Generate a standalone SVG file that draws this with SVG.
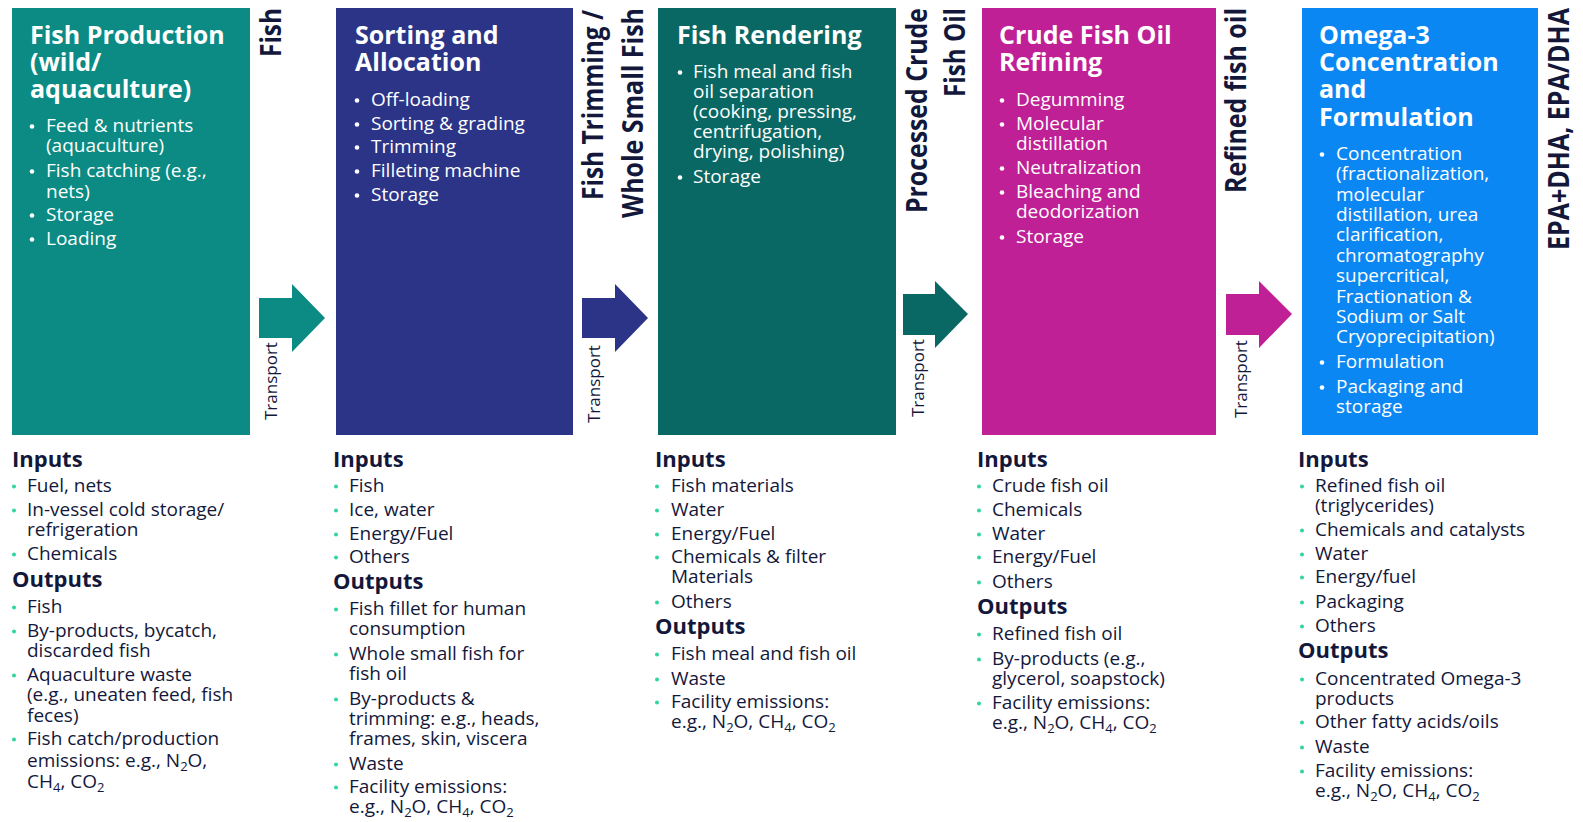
<svg xmlns="http://www.w3.org/2000/svg" width="1583" height="822" viewBox="0 0 1583 822">
<style>
.title{font-family:"Open Sans","Noto Sans",sans-serif;font-weight:700;font-size:25px;fill:#ffffff}
.bt{font-family:"Open Sans","Noto Sans",sans-serif;font-size:19px;fill:#ffffff}
.hd{font-family:"Open Sans","Noto Sans",sans-serif;font-weight:700;font-size:22px;fill:#13183b}
.it{font-family:"Open Sans","Noto Sans",sans-serif;font-size:19px;fill:#13183b}
.flow{font-family:"Open Sans","Noto Sans",sans-serif;font-weight:700;font-size:29px;fill:#13183b}
.tr{font-family:"Open Sans","Noto Sans",sans-serif;font-size:17px;fill:#13183b}
.wd{fill:#ffffff}
.md{fill:#2fd6a3}
.sub{font-size:13px}
</style>

<g id="connectors">
  <polygon points="259,298 292,298 292,284 325,318 292,352 292,338 259,338" fill="#0b8b84"/>
  <polygon points="582,298 615,298 615,284 648,318 615,352 615,338 582,338" fill="#2b3487"/>
  <polygon points="903,294 935,294 935,281 968,314 935,348 935,335 903,335" fill="#0a6864"/>
  <polygon points="1226,294 1259,294 1259,281 1292,314 1259,348 1259,335 1226,335" fill="#bf2096"/>
  <text class="tr" transform="translate(277,420) rotate(-90)">Transport</text>
  <text class="tr" transform="translate(600,423) rotate(-90)">Transport</text>
  <text class="tr" transform="translate(924,417) rotate(-90)">Transport</text>
  <text class="tr" transform="translate(1247,418) rotate(-90)">Transport</text>
  <text class="flow" transform="translate(281,57) rotate(-90)" textLength="49" lengthAdjust="spacingAndGlyphs">Fish</text>
  <text class="flow" transform="translate(603,200) rotate(-90)" textLength="190" lengthAdjust="spacingAndGlyphs">Fish Trimming /</text>
  <text class="flow" transform="translate(643,218) rotate(-90)" textLength="210" lengthAdjust="spacingAndGlyphs">Whole Small Fish</text>
  <text class="flow" transform="translate(927,213) rotate(-90)" textLength="205" lengthAdjust="spacingAndGlyphs">Processed Crude</text>
  <text class="flow" transform="translate(965,97) rotate(-90)" textLength="89" lengthAdjust="spacingAndGlyphs">Fish Oil</text>
  <text class="flow" transform="translate(1246,193) rotate(-90)" textLength="185" lengthAdjust="spacingAndGlyphs">Refined fish oil</text>
  <text class="flow" transform="translate(1569,250) rotate(-90)" textLength="242" lengthAdjust="spacingAndGlyphs">EPA+DHA, EPA/DHA</text>
</g>

<g id="node-fish-production">
  <rect x="12" y="8" width="238" height="427" fill="#0b8b84"/>
  <text class="title" x="30" y="44">Fish Production</text>
  <text class="title" x="30" y="71">(wild/</text>
  <text class="title" x="30" y="98">aquaculture)</text>
  <g class="wd"><circle cx="32" cy="126.5" r="2.3"/><circle cx="32" cy="171.5" r="2.3"/><circle cx="32" cy="215.5" r="2.3"/><circle cx="32" cy="239.5" r="2.3"/></g>
  <text class="bt" x="46" y="132">Feed &amp; nutrients</text>
  <text class="bt" x="46" y="152">(aquaculture)</text>
  <text class="bt" x="46" y="177">Fish catching (e.g.,</text>
  <text class="bt" x="46" y="198">nets)</text>
  <text class="bt" x="46" y="221">Storage</text>
  <text class="bt" x="46" y="245">Loading</text>
  <text class="hd" x="12" y="467">Inputs</text>
  <text class="hd" x="12" y="587">Outputs</text>
  <g class="md"><circle cx="14" cy="486.5" r="2"/><circle cx="14" cy="510.5" r="2"/><circle cx="14" cy="554.5" r="2"/><circle cx="14" cy="607.5" r="2"/><circle cx="14" cy="631.5" r="2"/><circle cx="14" cy="675.5" r="2"/><circle cx="14" cy="739.5" r="2"/></g>
  <text class="it" x="27" y="492">Fuel, nets</text>
  <text class="it" x="27" y="516">In-vessel cold storage/</text>
  <text class="it" x="27" y="536">refrigeration</text>
  <text class="it" x="27" y="560">Chemicals</text>
  <text class="it" x="27" y="613">Fish</text>
  <text class="it" x="27" y="637">By-products, bycatch,</text>
  <text class="it" x="27" y="657">discarded fish</text>
  <text class="it" x="27" y="681">Aquaculture waste</text>
  <text class="it" x="27" y="701">(e.g., uneaten feed, fish</text>
  <text class="it" x="27" y="722">feces)</text>
  <text class="it" x="27" y="745">Fish catch/production</text>
  <text class="it" x="27" y="767">emissions: e.g., N<tspan class="sub" dy="4">2</tspan><tspan dy="-4">O,</tspan></text>
  <text class="it" x="27" y="788">CH<tspan class="sub" dy="4">4</tspan><tspan dy="-4">, CO</tspan><tspan class="sub" dy="4">2</tspan></text>
</g>

<g id="node-sorting-allocation">
  <rect x="336" y="8" width="237" height="427" fill="#2b3487"/>
  <text class="title" x="355" y="44">Sorting and</text>
  <text class="title" x="355" y="71">Allocation</text>
  <g class="wd"><circle cx="357" cy="100.5" r="2.3"/><circle cx="357" cy="124.5" r="2.3"/><circle cx="357" cy="147.5" r="2.3"/><circle cx="357" cy="171.5" r="2.3"/><circle cx="357" cy="195.5" r="2.3"/></g>
  <text class="bt" x="371" y="106">Off-loading</text>
  <text class="bt" x="371" y="130">Sorting &amp; grading</text>
  <text class="bt" x="371" y="153">Trimming</text>
  <text class="bt" x="371" y="177">Filleting machine</text>
  <text class="bt" x="371" y="201">Storage</text>
  <text class="hd" x="333" y="467">Inputs</text>
  <text class="hd" x="333" y="589">Outputs</text>
  <g class="md"><circle cx="336" cy="486.5" r="2"/><circle cx="336" cy="510.5" r="2"/><circle cx="336" cy="534.5" r="2"/><circle cx="336" cy="557.5" r="2"/><circle cx="336" cy="609.5" r="2"/><circle cx="336" cy="654.5" r="2"/><circle cx="336" cy="699.5" r="2"/><circle cx="336" cy="764.5" r="2"/><circle cx="336" cy="787.5" r="2"/></g>
  <text class="it" x="349" y="492">Fish</text>
  <text class="it" x="349" y="516">Ice, water</text>
  <text class="it" x="349" y="540">Energy/Fuel</text>
  <text class="it" x="349" y="563">Others</text>
  <text class="it" x="349" y="615">Fish fillet for human</text>
  <text class="it" x="349" y="635">consumption</text>
  <text class="it" x="349" y="660">Whole small fish for</text>
  <text class="it" x="349" y="680">fish oil</text>
  <text class="it" x="349" y="705">By-products &amp;</text>
  <text class="it" x="349" y="725">trimming: e.g., heads,</text>
  <text class="it" x="349" y="745">frames, skin, viscera</text>
  <text class="it" x="349" y="770">Waste</text>
  <text class="it" x="349" y="793">Facility emissions:</text>
  <text class="it" x="349" y="813">e.g., N<tspan class="sub" dy="4">2</tspan><tspan dy="-4">O, CH</tspan><tspan class="sub" dy="4">4</tspan><tspan dy="-4">, CO</tspan><tspan class="sub" dy="4">2</tspan></text>
</g>

<g id="node-fish-rendering">
  <rect x="658" y="8" width="238" height="427" fill="#0a6864"/>
  <text class="title" x="677" y="44">Fish Rendering</text>
  <g class="wd"><circle cx="680" cy="72.5" r="2.3"/><circle cx="680" cy="177.5" r="2.3"/></g>
  <text class="bt" x="693" y="78">Fish meal and fish</text>
  <text class="bt" x="693" y="98">oil separation</text>
  <text class="bt" x="693" y="118">(cooking, pressing,</text>
  <text class="bt" x="693" y="138">centrifugation,</text>
  <text class="bt" x="693" y="158">drying, polishing)</text>
  <text class="bt" x="693" y="183">Storage</text>
  <text class="hd" x="655" y="467">Inputs</text>
  <text class="hd" x="655" y="634">Outputs</text>
  <g class="md"><circle cx="657" cy="486.5" r="2"/><circle cx="657" cy="510.5" r="2"/><circle cx="657" cy="534.5" r="2"/><circle cx="657" cy="557.5" r="2"/><circle cx="657" cy="602.5" r="2"/><circle cx="657" cy="654.5" r="2"/><circle cx="657" cy="679.5" r="2"/><circle cx="657" cy="702.5" r="2"/></g>
  <text class="it" x="671" y="492">Fish materials</text>
  <text class="it" x="671" y="516">Water</text>
  <text class="it" x="671" y="540">Energy/Fuel</text>
  <text class="it" x="671" y="563">Chemicals &amp; filter</text>
  <text class="it" x="671" y="583">Materials</text>
  <text class="it" x="671" y="608">Others</text>
  <text class="it" x="671" y="660">Fish meal and fish oil</text>
  <text class="it" x="671" y="685">Waste</text>
  <text class="it" x="671" y="708">Facility emissions:</text>
  <text class="it" x="671" y="728">e.g., N<tspan class="sub" dy="4">2</tspan><tspan dy="-4">O, CH</tspan><tspan class="sub" dy="4">4</tspan><tspan dy="-4">, CO</tspan><tspan class="sub" dy="4">2</tspan></text>
</g>

<g id="node-crude-oil-refining">
  <rect x="982" y="8" width="234" height="427" fill="#bf2096"/>
  <text class="title" x="999" y="44">Crude Fish Oil</text>
  <text class="title" x="999" y="71">Refining</text>
  <g class="wd"><circle cx="1002" cy="100.5" r="2.3"/><circle cx="1002" cy="124.5" r="2.3"/><circle cx="1002" cy="168.5" r="2.3"/><circle cx="1002" cy="192.5" r="2.3"/><circle cx="1002" cy="237.5" r="2.3"/></g>
  <text class="bt" x="1016" y="106">Degumming</text>
  <text class="bt" x="1016" y="130">Molecular</text>
  <text class="bt" x="1016" y="150">distillation</text>
  <text class="bt" x="1016" y="174">Neutralization</text>
  <text class="bt" x="1016" y="198">Bleaching and</text>
  <text class="bt" x="1016" y="218">deodorization</text>
  <text class="bt" x="1016" y="243">Storage</text>
  <text class="hd" x="977" y="467">Inputs</text>
  <text class="hd" x="977" y="614">Outputs</text>
  <g class="md"><circle cx="979" cy="486.5" r="2"/><circle cx="979" cy="510.5" r="2"/><circle cx="979" cy="534.5" r="2"/><circle cx="979" cy="557.5" r="2"/><circle cx="979" cy="582.5" r="2"/><circle cx="979" cy="634.5" r="2"/><circle cx="979" cy="659.5" r="2"/><circle cx="979" cy="703.5" r="2"/></g>
  <text class="it" x="992" y="492">Crude fish oil</text>
  <text class="it" x="992" y="516">Chemicals</text>
  <text class="it" x="992" y="540">Water</text>
  <text class="it" x="992" y="563">Energy/Fuel</text>
  <text class="it" x="992" y="588">Others</text>
  <text class="it" x="992" y="640">Refined fish oil</text>
  <text class="it" x="992" y="665">By-products (e.g.,</text>
  <text class="it" x="992" y="685">glycerol, soapstock)</text>
  <text class="it" x="992" y="709">Facility emissions:</text>
  <text class="it" x="992" y="729">e.g., N<tspan class="sub" dy="4">2</tspan><tspan dy="-4">O, CH</tspan><tspan class="sub" dy="4">4</tspan><tspan dy="-4">, CO</tspan><tspan class="sub" dy="4">2</tspan></text>
</g>

<g id="node-omega3-concentration">
  <rect x="1302" y="8" width="236" height="427" fill="#0b87f4"/>
  <text class="title" x="1319" y="44">Omega-3</text>
  <text class="title" x="1319" y="71">Concentration</text>
  <text class="title" x="1319" y="98">and</text>
  <text class="title" x="1319" y="126">Formulation</text>
  <g class="wd"><circle cx="1322" cy="154.5" r="2.3"/><circle cx="1322" cy="362.5" r="2.3"/><circle cx="1322" cy="387.5" r="2.3"/></g>
  <text class="bt" x="1336" y="160">Concentration</text>
  <text class="bt" x="1336" y="180">(fractionalization,</text>
  <text class="bt" x="1336" y="201">molecular</text>
  <text class="bt" x="1336" y="221">distillation, urea</text>
  <text class="bt" x="1336" y="241">clarification,</text>
  <text class="bt" x="1336" y="262">chromatography</text>
  <text class="bt" x="1336" y="282">supercritical,</text>
  <text class="bt" x="1336" y="303">Fractionation &amp;</text>
  <text class="bt" x="1336" y="323">Sodium or Salt</text>
  <text class="bt" x="1336" y="343">Cryoprecipitation)</text>
  <text class="bt" x="1336" y="368">Formulation</text>
  <text class="bt" x="1336" y="393">Packaging and</text>
  <text class="bt" x="1336" y="413">storage</text>
  <text class="hd" x="1298" y="467">Inputs</text>
  <text class="hd" x="1298" y="658">Outputs</text>
  <g class="md"><circle cx="1302" cy="486.5" r="2"/><circle cx="1302" cy="530.5" r="2"/><circle cx="1302" cy="554.5" r="2"/><circle cx="1302" cy="577.5" r="2"/><circle cx="1302" cy="602.5" r="2"/><circle cx="1302" cy="626.5" r="2"/><circle cx="1302" cy="679.5" r="2"/><circle cx="1302" cy="722.5" r="2"/><circle cx="1302" cy="747.5" r="2"/><circle cx="1302" cy="771.5" r="2"/></g>
  <text class="it" x="1315" y="492">Refined fish oil</text>
  <text class="it" x="1315" y="512">(triglycerides)</text>
  <text class="it" x="1315" y="536">Chemicals and catalysts</text>
  <text class="it" x="1315" y="560">Water</text>
  <text class="it" x="1315" y="583">Energy/fuel</text>
  <text class="it" x="1315" y="608">Packaging</text>
  <text class="it" x="1315" y="632">Others</text>
  <text class="it" x="1315" y="685">Concentrated Omega-3</text>
  <text class="it" x="1315" y="705">products</text>
  <text class="it" x="1315" y="728">Other fatty acids/oils</text>
  <text class="it" x="1315" y="753">Waste</text>
  <text class="it" x="1315" y="777">Facility emissions:</text>
  <text class="it" x="1315" y="797">e.g., N<tspan class="sub" dy="4">2</tspan><tspan dy="-4">O, CH</tspan><tspan class="sub" dy="4">4</tspan><tspan dy="-4">, CO</tspan><tspan class="sub" dy="4">2</tspan></text>
</g>
</svg>
